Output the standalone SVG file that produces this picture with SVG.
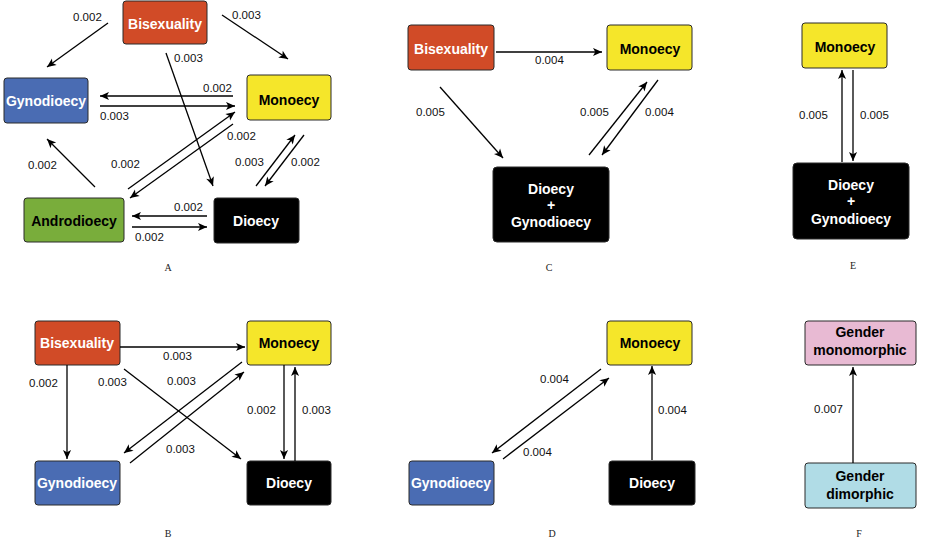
<svg xmlns="http://www.w3.org/2000/svg" width="932" height="545" viewBox="0 0 932 545">
<defs>
<marker id="ah" viewBox="0 0 10 10" refX="10" refY="5" markerWidth="11" markerHeight="9" markerUnits="userSpaceOnUse" orient="auto">
<path d="M0,0.5 L10,5 L0,9.5 L2.5,5 z" fill="#000"/>
</marker>
<style>
.n{stroke:#2a2a2a;stroke-width:1}
.bis{fill:#D14B27}.gyn{fill:#4A6CB3}.mon{fill:#F5E62A}.and{fill:#79AD3B}.dio{fill:#000}.gm{fill:#E8BAD3}.gd{fill:#B0DCE6}
.t{font-family:"Liberation Sans",Arial,sans-serif;font-weight:bold;font-size:14px;text-anchor:middle}
.w{fill:#fff}.k{fill:#000}
.l{font-family:"Liberation Sans",Arial,sans-serif;font-size:11.5px;fill:#111}
.cap{font-family:"Liberation Serif","Times New Roman",serif;font-size:10px;text-anchor:middle;fill:#222}
.e{stroke:#000;stroke-width:1.3;fill:none;marker-end:url(#ah)}
</style>
</defs>
<rect width="932" height="545" fill="#fff"/>

<!-- Panel A -->
<g id="A-bis"><rect class="n bis" x="123" y="1" width="84" height="43" rx="3"/><text class="t w" x="165" y="29">Bisexuality</text></g>
<g id="A-gyn"><rect class="n gyn" x="4" y="78" width="84" height="45" rx="3"/><text class="t w" x="46" y="106">Gynodioecy</text></g>
<g id="A-mon"><rect class="n mon" x="247" y="75" width="84" height="45" rx="3"/><text class="t k" x="289" y="105">Monoecy</text></g>
<g id="A-and"><rect class="n and" x="24" y="198" width="100" height="44" rx="3"/><text class="t k" x="74" y="226">Androdioecy</text></g>
<g id="A-dio"><rect class="n dio" x="214" y="198" width="85" height="45" rx="3"/><text class="t w" x="256" y="226">Dioecy</text></g>

<!-- Panel B -->
<g id="B-bis"><rect class="n bis" x="35" y="321" width="85" height="44" rx="3"/><text class="t w" x="77" y="348">Bisexuality</text></g>
<g id="B-mon"><rect class="n mon" x="247" y="321" width="84" height="44" rx="3"/><text class="t k" x="289" y="348">Monoecy</text></g>
<g id="B-gyn"><rect class="n gyn" x="35" y="461" width="85" height="44" rx="3"/><text class="t w" x="77" y="488">Gynodioecy</text></g>
<g id="B-dio"><rect class="n dio" x="247" y="461" width="84" height="44" rx="3"/><text class="t w" x="289" y="488">Dioecy</text></g>

<!-- Panel C -->
<g id="C-bis"><rect class="n bis" x="408" y="25" width="86" height="45" rx="3"/><text class="t w" x="451" y="54">Bisexuality</text></g>
<g id="C-mon"><rect class="n mon" x="607" y="25" width="85" height="45" rx="3"/><text class="t k" x="650" y="54">Monoecy</text></g>
<g id="C-dg"><rect class="n dio" x="493" y="167" width="116" height="75" rx="4"/><text class="t w" x="551" y="194">Dioecy</text><text class="t w" x="551" y="210">+</text><text class="t w" x="551" y="227">Gynodioecy</text></g>

<!-- Panel D -->
<g id="D-mon"><rect class="n mon" x="607" y="321" width="85" height="44" rx="3"/><text class="t k" x="650" y="348">Monoecy</text></g>
<g id="D-gyn"><rect class="n gyn" x="409" y="461" width="85" height="44" rx="3"/><text class="t w" x="451" y="488">Gynodioecy</text></g>
<g id="D-dio"><rect class="n dio" x="609" y="461" width="86" height="44" rx="3"/><text class="t w" x="652" y="488">Dioecy</text></g>

<!-- Panel E -->
<g id="E-mon"><rect class="n mon" x="802" y="23" width="85" height="45" rx="3"/><text class="t k" x="845" y="52">Monoecy</text></g>
<g id="E-dg"><rect class="n dio" x="793" y="163" width="116" height="76" rx="4"/><text class="t w" x="851" y="190">Dioecy</text><text class="t w" x="851" y="206">+</text><text class="t w" x="851" y="224">Gynodioecy</text></g>

<!-- Panel F -->
<g id="F-mono"><rect class="n gm" x="805" y="321" width="111" height="44" rx="3"/><text class="t k" x="860" y="337">Gender</text><text class="t k" x="860" y="355">monomorphic</text></g>
<g id="F-dim"><rect class="n gd" x="805" y="463" width="111" height="45" rx="3"/><text class="t k" x="860" y="481">Gender</text><text class="t k" x="860" y="499">dimorphic</text></g>

<g id="connectors">
<!-- A -->
<line class="e" x1="108" y1="23" x2="47" y2="67"/>
<line class="e" x1="222" y1="15" x2="288" y2="59"/>
<line class="e" x1="166" y1="53" x2="213" y2="186"/>
<line class="e" x1="233" y1="96" x2="100" y2="96"/>
<line class="e" x1="100" y1="106" x2="235" y2="106"/>
<line class="e" x1="128" y1="189" x2="235" y2="112"/>
<line class="e" x1="233" y1="124" x2="130" y2="198"/>
<line class="e" x1="95" y1="187" x2="47" y2="139"/>
<line class="e" x1="256" y1="186" x2="295" y2="135"/>
<line class="e" x1="304" y1="135" x2="265" y2="186"/>
<line class="e" x1="207" y1="216" x2="132" y2="216"/>
<line class="e" x1="132" y1="227" x2="207" y2="227"/>
<!-- B -->
<line class="e" x1="120" y1="347" x2="245" y2="347"/>
<line class="e" x1="67" y1="365" x2="67" y2="459"/>
<line class="e" x1="124" y1="369" x2="241" y2="459"/>
<line class="e" x1="242" y1="362" x2="124" y2="453"/>
<line class="e" x1="130" y1="463" x2="244" y2="372"/>
<line class="e" x1="284" y1="365" x2="284" y2="459"/>
<line class="e" x1="295" y1="461" x2="295" y2="367"/>
<!-- C -->
<line class="e" x1="496" y1="52" x2="602" y2="52"/>
<line class="e" x1="440" y1="87" x2="503" y2="158"/>
<line class="e" x1="589" y1="155" x2="647" y2="82"/>
<line class="e" x1="658" y1="80" x2="602" y2="155"/>
<!-- D -->
<line class="e" x1="601" y1="369" x2="492" y2="453"/>
<line class="e" x1="503" y1="459" x2="609" y2="378"/>
<line class="e" x1="652" y1="460" x2="652" y2="366"/>
<!-- E -->
<line class="e" x1="842" y1="162" x2="842" y2="70"/>
<line class="e" x1="853" y1="70" x2="853" y2="161"/>
<!-- F -->
<line class="e" x1="853" y1="463" x2="853" y2="367"/>
</g>

<g id="labels">
<text class="l" x="73" y="21">0.002</text>
<text class="l" x="232" y="19">0.003</text>
<text class="l" x="174" y="62">0.003</text>
<text class="l" x="203" y="92">0.002</text>
<text class="l" x="100" y="120">0.003</text>
<text class="l" x="227" y="140">0.002</text>
<text class="l" x="111" y="168">0.002</text>
<text class="l" x="28" y="169">0.002</text>
<text class="l" x="235" y="166">0.003</text>
<text class="l" x="291" y="166">0.002</text>
<text class="l" x="174" y="211">0.002</text>
<text class="l" x="135" y="241">0.002</text>

<text class="l" x="163" y="360">0.003</text>
<text class="l" x="29" y="387">0.002</text>
<text class="l" x="98" y="386">0.003</text>
<text class="l" x="167" y="385">0.003</text>
<text class="l" x="166" y="453">0.003</text>
<text class="l" x="247" y="414">0.002</text>
<text class="l" x="302" y="414">0.003</text>

<text class="l" x="535" y="64">0.004</text>
<text class="l" x="416" y="116">0.005</text>
<text class="l" x="580" y="116">0.005</text>
<text class="l" x="645" y="116">0.004</text>

<text class="l" x="540" y="383">0.004</text>
<text class="l" x="523" y="456">0.004</text>
<text class="l" x="658" y="414">0.004</text>

<text class="l" x="799" y="119">0.005</text>
<text class="l" x="860" y="119">0.005</text>

<text class="l" x="814" y="413">0.007</text>
</g>

<g id="captions">
<text class="cap" x="168" y="271">A</text>
<text class="cap" x="168" y="537">B</text>
<text class="cap" x="549" y="271">C</text>
<text class="cap" x="552" y="537">D</text>
<text class="cap" x="853" y="269">E</text>
<text class="cap" x="859" y="537">F</text>
</g>
</svg>
